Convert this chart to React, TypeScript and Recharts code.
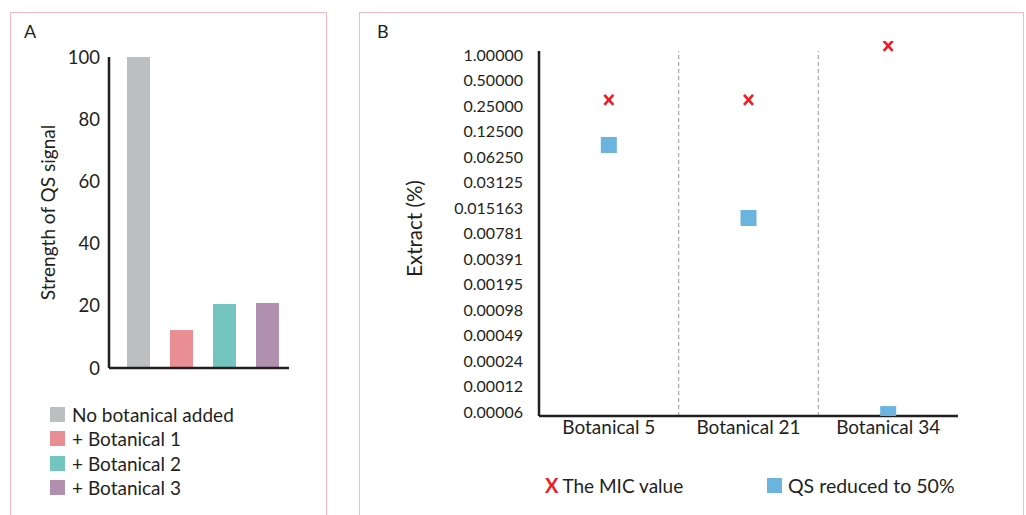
import React from "react"
import {
  BarChart,
  Bar,
  Cell,
  XAxis,
  YAxis,
  ScatterChart,
  Scatter,
  ReferenceLine,
} from "recharts"

const FONT = "Lato, 'Open Sans', sans-serif"
const INK = "#231f20"

// Panel A – strength of QS signal
const groups = ["No botanical added", "+ Botanical 1", "+ Botanical 2", "+ Botanical 3"]
const signal = [100, 12.2, 20.6, 20.9]
const groupColors = ["#bcbec0", "#e98f93", "#74c4bf", "#b08faf"]
const signalTicks = [0, 20, 40, 60, 80, 100]

// Panel B – extract concentration (log2 axis)
const botanicals = ["Botanical 5", "Botanical 21", "Botanical 34"]
const micValues = [0.295, 0.295, 1.28]
const qs50Values = [0.0866, 0.0119, 0.0000578]
const extractTicks = [
  1, 0.5, 0.25, 0.125, 0.0625, 0.03125, 0.015625, 0.0078125, 0.00390625,
  0.001953125, 0.0009765625, 0.00048828125, 0.000244140625, 0.0001220703125,
  0.00006103515625,
]
const extractLabels = [
  "1.00000", "0.50000", "0.25000", "0.12500", "0.06250", "0.03125", "0.015163",
  "0.00781", "0.00391", "0.00195", "0.00098", "0.00049", "0.00024", "0.00012",
  "0.00006",
]
const extractMin = 0.0000549
const extractMax = 1.46
const axisTop = 1.115

const barData = groups.map((g, i) => ({ name: g, value: signal[i] }))
const micData = botanicals.map((b, i) => ({ x: i + 0.5, lvl: Math.log2(micValues[i]) }))
const qsData = botanicals.map((b, i) => ({ x: i + 0.5, lvl: Math.log2(qs50Values[i]) }))
const lvlTicks = extractTicks.map((t) => Math.log2(t))
const lvlLo = Math.log2(extractMin)
const lvlTop = Math.log2(axisTop)

const MicMark = (p: any) => (
  <g stroke="#ed1c24" strokeWidth={2.6}>
    <line x1={p.cx - 4.5} y1={p.cy - 5} x2={p.cx + 4.5} y2={p.cy + 5} />
    <line x1={p.cx + 4.5} y1={p.cy - 5} x2={p.cx - 4.5} y2={p.cy + 5} />
  </g>
)

const QsMark = (p: any) => (
  <rect x={p.cx - 8} y={p.cy - 8} width={16} height={16} fill="#6cb4e0" />
)

const panelStyle: React.CSSProperties = {
  position: "absolute",
  top: 12,
  height: 520,
  border: "1.5px solid #f4b9bc",
  boxSizing: "border-box",
}

const legendRow: React.CSSProperties = {
  position: "absolute",
  height: 24,
  display: "flex",
  alignItems: "center",
  whiteSpace: "nowrap",
}

export default function App() {
  return (
    <div
      style={{
        position: "relative",
        width: 1026,
        height: 515,
        overflow: "hidden",
        fontFamily: FONT,
        color: INK,
        background: "#fff",
      }}
    >
      <style>{"body{margin:0}"}</style>
      <div style={{ ...panelStyle, left: 10, width: 317 }} />
      <div style={{ ...panelStyle, left: 359, width: 665 }} />

      <div style={{ position: "absolute", left: 24, top: 20, fontSize: 18 }}>A</div>
      <div style={{ position: "absolute", left: 377, top: 20, fontSize: 18 }}>B</div>

      <div style={{ position: "absolute", left: 0, top: 0 }}>
        <BarChart
          width={330}
          height={515}
          data={barData}
          margin={{ top: 57, right: 41, bottom: 146, left: 0 }}
        >
          <XAxis
            dataKey="name"
            tick={false}
            height={1}
            padding={{ left: 8, right: 0 }}
            axisLine={{ stroke: INK, strokeWidth: 2.5 }}
            tickLine={false}
          />
          <YAxis
            width={109}
            domain={[0, 100]}
            ticks={signalTicks}
            tickSize={0}
            tickMargin={9}
            axisLine={{ stroke: INK, strokeWidth: 2.5 }}
            tick={{ fontSize: 18.5, fill: INK, fontFamily: FONT }}
            label={{
              value: "Strength of QS signal",
              angle: -90,
              position: "insideLeft",
              dx: 43,
              style: { textAnchor: "middle", fontSize: 19, fill: INK, fontFamily: FONT },
            }}
          />
          <Bar dataKey="value" barSize={23} isAnimationActive={false}>
            {barData.map((d, i) => (
              <Cell key={d.name} fill={groupColors[i]} />
            ))}
          </Bar>
        </BarChart>
      </div>

      {groups.map((g, i) => (
        <div key={g} style={{ ...legendRow, left: 50, top: 402 + i * 24.5, fontSize: 19 }}>
          <span
            style={{
              display: "inline-block",
              width: 15,
              height: 15,
              background: groupColors[i],
              marginRight: 7,
            }}
          />
          {g}
        </div>
      ))}

      <div style={{ position: "absolute", left: 350, top: 0 }}>
        <ScatterChart
          width={676}
          height={515}
          margin={{ top: 41, right: 68, bottom: 69, left: 0 }}
        >
          <XAxis
            type="number"
            dataKey="x"
            domain={[0, 3]}
            ticks={[0.5, 1.5, 2.5]}
            tickFormatter={(v: number) => botanicals[Math.floor(v)]}
            height={30}
            tickSize={0}
            tickMargin={5}
            axisLine={{ stroke: INK, strokeWidth: 2.5 }}
            tick={{ fontSize: 19, fill: INK, fontFamily: FONT }}
          />
          <YAxis
            type="number"
            dataKey="lvl"
            width={189}
            domain={[lvlLo, Math.log2(extractMax)]}
            allowDataOverflow
            ticks={lvlTicks}
            interval={0}
            tickFormatter={(v: number) => extractLabels[lvlTicks.indexOf(v)]}
            tickSize={0}
            tickMargin={16}
            axisLine={false}
            tick={{ fontSize: 16, fill: INK, fontFamily: FONT }}
            label={{
              value: "Extract (%)",
              angle: -90,
              position: "insideLeft",
              dx: 60,
              style: { textAnchor: "middle", fontSize: 20.5, fill: INK, fontFamily: FONT },
            }}
          />
          <ReferenceLine
            segment={[
              { x: 1, y: lvlLo },
              { x: 1, y: lvlTop },
            ]}
            stroke="#a7a9ac"
            strokeWidth={1.2}
            strokeDasharray="4 3"
          />
          <ReferenceLine
            segment={[
              { x: 2, y: lvlLo },
              { x: 2, y: lvlTop },
            ]}
            stroke="#a7a9ac"
            strokeWidth={1.2}
            strokeDasharray="4 3"
          />
          <ReferenceLine
            segment={[
              { x: 0, y: lvlLo },
              { x: 0, y: lvlTop },
            ]}
            stroke={INK}
            strokeWidth={2.5}
          />
          <Scatter data={micData} shape={MicMark} isAnimationActive={false} />
          <Scatter data={qsData} shape={QsMark} isAnimationActive={false} />
        </ScatterChart>
      </div>

      <div style={{ ...legendRow, left: 545, top: 473, fontSize: 19 }}>
        <span style={{ color: "#ed1c24", fontWeight: 700, fontSize: 20, marginRight: 4 }}>X</span>
        The MIC value
      </div>
      <div style={{ ...legendRow, left: 767, top: 473, fontSize: 19.5 }}>
        <span
          style={{
            display: "inline-block",
            width: 15,
            height: 15,
            background: "#6cb4e0",
            marginRight: 6,
          }}
        />
        QS reduced to 50%
      </div>
    </div>
  )
}
